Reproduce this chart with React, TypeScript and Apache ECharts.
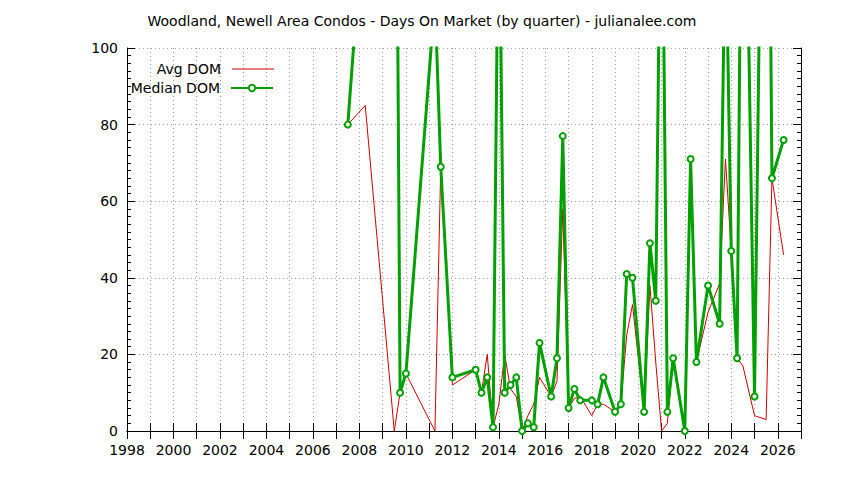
import React, { useEffect, useRef } from 'react';
import * as echarts from 'echarts';

// quarter positions (decimal year) and values
const avgQuarters = [
  2007.5, 2008.25, 2009.5, 2009.75, 2010.0, 2011.25, 2011.5, 2012.0, 2013.0, 2013.25,
  2013.5, 2013.75, 2014.0, 2014.25, 2014.5, 2014.75, 2015.0, 2015.25, 2015.5, 2015.75,
  2016.25, 2016.5, 2016.75, 2017.0, 2017.25, 2017.5, 2018.0, 2018.25, 2018.5, 2019.0,
  2019.25, 2019.5, 2019.75, 2020.25, 2020.5, 2020.75, 2021.0, 2021.25, 2021.5, 2022.0,
  2022.25, 2022.5, 2023.0, 2023.5, 2023.75, 2024.0, 2024.25, 2024.5, 2025.0, 2025.5,
  2025.75, 2026.25,
];
const avgDom = [
  80, 85, 0, 10, 15, 0, 69, 12, 16, 10,
  20, 1, 7, 20, 11, 9, 0, 4, 7, 14,
  9, 13, 58, 6, 8.5, 9, 4, 7, 7, 5,
  7, 25, 33, 5, 38, 18, 0, 2, 19, 0,
  71, 18, 31, 38.5, 71, 47, 19, 17, 4, 3,
  66, 46,
];

const medianQuarters = [
  2007.5, 2008.25, 2009.5, 2009.75, 2010.0, 2011.25, 2011.5, 2012.0, 2013.0, 2013.25,
  2013.5, 2013.75, 2014.0, 2014.25, 2014.5, 2014.75, 2015.0, 2015.25, 2015.5, 2015.75,
  2016.25, 2016.5, 2016.75, 2017.0, 2017.25, 2017.5, 2018.0, 2018.25, 2018.5, 2019.0,
  2019.25, 2019.5, 2019.75, 2020.25, 2020.5, 2020.75, 2021.0, 2021.25, 2021.5, 2022.0,
  2022.25, 2022.5, 2023.0, 2023.5, 2023.75, 2024.0, 2024.25, 2024.5, 2025.0, 2025.5,
  2025.75, 2026.25,
];
const medianDom = [
  80, 141, 243, 10, 15, 113, 69, 14, 16, 10,
  14, 1, 150, 10, 12, 14, 0, 2, 1, 23,
  9, 19, 77, 6, 11, 8, 8, 7, 14, 5,
  7, 41, 40, 5, 49, 34, 165, 5, 19, 0,
  71, 18, 38, 28, 135, 47, 19, 197, 9, 249,
  66, 76,
];

const FONT = 'DejaVu Sans';
const RED = '#d00000';
const GREEN = '#00a000';

const App: React.FC = () => {
  const chartRef = useRef<HTMLDivElement>(null);

  useEffect(() => {
    if (!chartRef.current) return;
    const chart = echarts.init(chartRef.current, undefined, { renderer: 'svg' });

    const xCommon = {
      type: 'value',
      min: 1998,
      max: 2027,
      interval: 1,
      axisLine: { lineStyle: { color: '#000', width: 1 } },
      axisTick: { inside: true, length: 8, lineStyle: { color: '#000' } },
    };
    const yCommon = {
      type: 'value',
      min: 0,
      max: 100,
      interval: 20,
      axisLine: { show: true, lineStyle: { color: '#000', width: 1 } },
      axisTick: { show: true, inside: true, length: 8, lineStyle: { color: '#000' } },
      minorTick: { show: true, splitNumber: 10, length: 4, lineStyle: { color: '#000' } },
    };
    const legendText = { fontFamily: FONT, fontSize: 14, color: '#000', padding: [0, 6, 0, 0] };

    chart.setOption({
      animation: false,
      backgroundColor: '#fff',
      title: {
        text: 'Woodland, Newell Area Condos - Days On Market (by quarter) - julianalee.com',
        left: 'center',
        top: 9,
        textStyle: { fontFamily: FONT, fontSize: 14, fontWeight: 'normal', color: '#000' },
      },
      legend: [
        {
          data: [{ name: 'Avg DOM', icon: 'rect' }],
          right: 565,
          top: 57,
          align: 'right',
          itemWidth: 42,
          itemHeight: 1,
          textStyle: legendText,
        },
        {
          data: ['Median DOM'],
          right: 565,
          top: 76,
          align: 'right',
          itemWidth: 42,
          itemHeight: 8,
          textStyle: legendText,
        },
      ],
      grid: { left: 127, right: 43, top: 48, bottom: 49 },
      xAxis: [
        {
          ...xCommon,
          position: 'bottom',
          axisLabel: {
            fontFamily: FONT,
            fontSize: 14,
            color: '#000',
            margin: 12,
            formatter: (v: number) => (v % 2 === 0 ? String(v) : ''),
          },
          splitLine: { show: true, lineStyle: { color: '#a0a0a0', type: [1, 3], width: 1 } },
        },
        {
          ...xCommon,
          position: 'top',
          axisLabel: { show: false },
          splitLine: { show: false },
        },
      ],
      yAxis: [
        {
          ...yCommon,
          position: 'left',
          axisLabel: { fontFamily: FONT, fontSize: 14, color: '#000', margin: 9 },
          splitLine: { show: true, lineStyle: { color: '#a0a0a0', type: [1, 3], width: 1 } },
        },
        {
          ...yCommon,
          position: 'right',
          axisLabel: { show: false },
          splitLine: { show: false },
        },
      ],
      series: [
        {
          name: 'Avg DOM',
          type: 'line',
          data: avgQuarters.map((q, i) => [q, avgDom[i]]),
          showSymbol: false,
          symbol: 'none',
          color: RED,
          lineStyle: { color: RED, width: 1 },
          clip: true,
        },
        {
          name: 'Median DOM',
          type: 'line',
          data: medianQuarters.map((q, i) => [q, medianDom[i]]),
          symbol: 'emptyCircle',
          symbolSize: 6,
          color: GREEN,
          itemStyle: { color: GREEN, borderWidth: 2 },
          lineStyle: { color: GREEN, width: 3 },
          clip: true,
        },
      ],
    });

    return () => {
      chart.dispose();
    };
  }, []);

  return (
    <div
      ref={chartRef}
      style={{ position: 'fixed', left: 0, top: 0, width: '844px', height: '480px' }}
    />
  );
};

export default App;
